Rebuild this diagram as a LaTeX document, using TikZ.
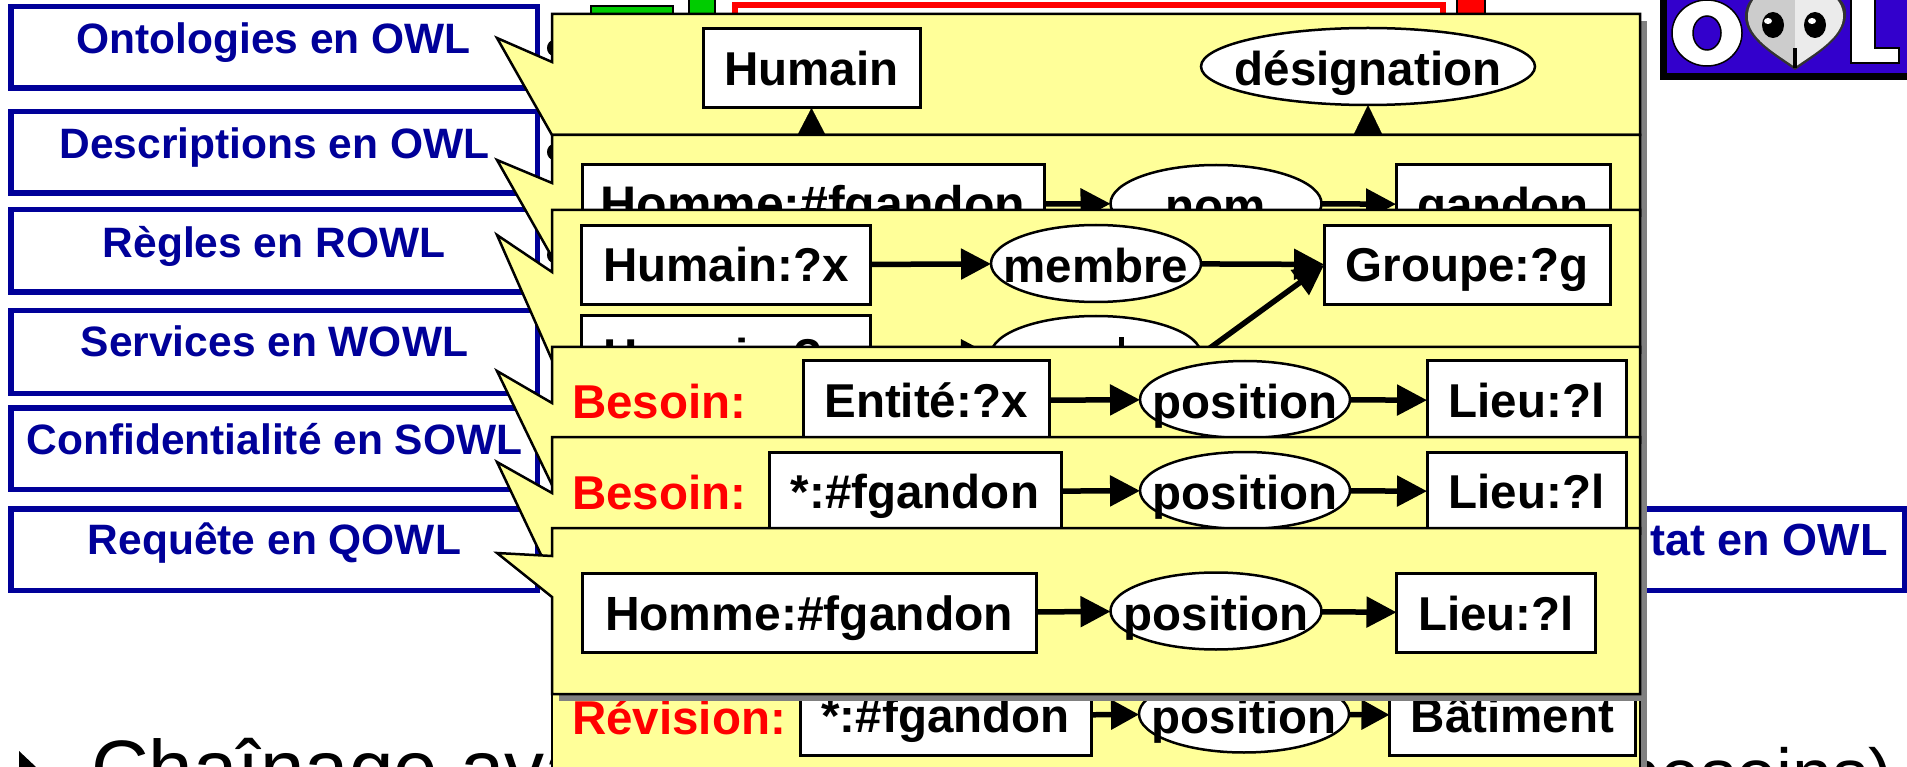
\documentclass[tikz,border=0pt]{standalone}
\usepackage{fontspec}
\setmainfont{Liberation Sans}
\usetikzlibrary{shapes.geometric,arrows.meta}
\definecolor{navyb}{HTML}{000099}
\definecolor{calloutfill}{HTML}{FFFF99}
\definecolor{shadowgray}{HTML}{808080}
\definecolor{greenb}{HTML}{00CC00}
\definecolor{logob}{HTML}{3300CC}
\tikzset{
  panel/.style={draw=navyb,line width=5.5pt,fill=white,sharp corners},
  paneltext/.style={text=navyb,anchor=base,inner sep=0pt,font=\bfseries\fontsize{42.5}{44}\selectfont},
  call/.style={draw=black,line width=2.5pt,fill=calloutfill,line join=miter},
  cnode/.style={draw=black,inner sep=0pt,outer sep=0pt,fill=white,font=\bfseries\fontsize{47.5}{50}\selectfont},
  cbox/.style={cnode,rectangle,line width=3pt,minimum height=79pt,text height=44pt,text depth=10pt},
  cell/.style={cnode,ellipse,line width=2.5pt,minimum height=77pt,text height=46pt,text depth=8pt},
  conn/.style={line width=5.5pt,-{Triangle[length=30pt,width=30pt]}},
  isa/.style={line width=.2pt,-{Triangle[length=#1,width=28pt]}},
  tag/.style={text=red,anchor=base west,inner sep=0pt,font=\bfseries\fontsize{47.5}{50}\selectfont},
  bigtext/.style={inner sep=0pt,font=\fontsize{80}{84}\selectfont},
}
\newcommand{\zw}[1]{\makebox[0pt]{#1}}
% top, bottom, tip y, upper joint y, lower joint y
\newcommand{\calloutshape}[5]{%
  \fill[shadowgray] (559,#1+7) -- (1647,#1+7) -- (1647,#2+7) -- (559,#2+7) -- cycle;
  \draw[call] (552,#1) -- (1640,#1) -- (1640,#2) -- (552,#2) -- (552,#5) -- (497,#3) -- (552,#4) -- cycle;
}
\begin{document}
\begin{tikzpicture}[x=1pt,y=-1pt]
\useasboundingbox (0,0) rectangle (1907,767);
\clip (0,0) rectangle (1907,767);
\fill[white] (0,0) rectangle (1907,767);
% things behind the callouts at the top
\draw[black,line width=2.5pt,fill=greenb] (591,6) rectangle (673,40);
\draw[black,line width=2.5pt,fill=greenb] (689,-5) rectangle (715,40);
\draw[red,line width=6pt] (735,40) -- (735,5) -- (1443,5) -- (1443,40);
\draw[black,line width=2.5pt,fill=red] (1457,-5) rectangle (1485,40);
% bullet bumps behind the callouts
\fill[black] (554,48) ellipse (7 and 8);
\fill[black] (554,152) ellipse (7 and 8);
\fill[black] (554,255) ellipse (7 and 8);
% left panels
\draw[panel] (10.75,6.75) rectangle (537.25,88.25);
\draw[panel] (10.75,111.75) rectangle (537.25,193.25);
\draw[panel] (10.75,209.75) rectangle (537.25,292.25);
\draw[panel] (10.75,310.75) rectangle (537.25,393.25);
\draw[panel] (10.75,407.75) rectangle (537.25,489.25);
\draw[panel] (10.75,508.75) rectangle (537.25,590.25);
\draw[panel] (1378,508.75) rectangle (1904.25,590.25);
\node[paneltext] (t1) at (273.5,53.5) {Ontologies en OWL};
\node[paneltext] (t2) at (274.5,158.5) {Descriptions en OWL};
\node[paneltext] (t3) at (274,257.5) {Règles en ROWL};
\node[paneltext] (t4) at (274.5,357) {Services en WOWL};
\node[paneltext] (t5) at (274.5,454.5) {Confidentialité en SOWL};
\node[paneltext] (t6) at (274.5,554.5) {Requête en QOWL};
\node[paneltext,anchor=base east,font=\bfseries\fontsize{45}{47}\selectfont] (t7) at (1888,555.5) {Résultat en OWL};
% bottom bullet text
\fill[black] (19,751) -- (36,767) -- (19,767) -- cycle;
\node[bigtext,anchor=base west] (b1) at (91,796) {Chaînage avant};
\node[bigtext,anchor=base east,font=\fontsize{72}{76}\selectfont] (b2) at (1893,799) {besoins)};
% logo
\fill[black] (1660,-5) rectangle (1907,80);
\fill[logob] (1667,-5) rectangle (1907,73);
\draw[black,line width=1.5pt,fill=white] (1707,33) ellipse (35 and 33);
\draw[black,line width=1.5pt,fill=logob] (1707,33) ellipse (14 and 17);
\fill[black!80] (1795,70) .. controls (1775,56) and (1744,38) .. (1745,16) .. controls (1745,6) and (1750,-2) .. (1758,-5) -- (1832,-5) .. controls (1842,-2) and (1847,6) .. (1846,16) .. controls (1845,38) and (1815,56) .. (1795,70) -- cycle;
\fill[black!20] (1795,67) .. controls (1777,54) and (1747,38) .. (1748,16) .. controls (1748,8) and (1752,0) .. (1758,-5) -- (1795,-5) -- cycle;
\fill[black!8] (1795,67) .. controls (1813,54) and (1843,38) .. (1843,16) .. controls (1843,8) and (1839,0) .. (1832,-5) -- (1795,-5) -- cycle;
\fill[black] (1773,25) ellipse (11 and 13);
\fill[black] (1815,25) ellipse (11 and 13);
\fill[white] (1768,21) ellipse (4 and 3);
\fill[white] (1812,21) ellipse (4 and 3);
\fill[black] (1793,48) rectangle (1797,68);
\draw[black,line width=2pt,fill=white] (1851,-5) -- (1875,-5) -- (1875,48) -- (1899,48) -- (1899,63) -- (1851,63) -- cycle;
% callout 7 (under callout 6)
\fill[shadowgray] (1640,690) rectangle (1647,767);
\draw[call] (552,690) -- (1640,690) -- (1640,800) -- (552,800) -- cycle;
\node[tag] (r7) at (572,734) {Révision:};
\node[cbox,minimum width=291pt] (a7) at (945.5,715.5) {*:\#fgandon};
\node[cell,minimum width=210pt] (e7) at (1244,714) {\zw{position}};
\node[cbox,minimum width=246pt] (c7) at (1512.5,715.5) {Bâtiment};
\draw[conn,-{Triangle[length=28pt,width=29pt]}] (a7) -- (e7);
\draw[conn,-{Triangle[length=28pt,width=29pt]}] (e7) -- (c7);
% callout 1
\calloutshape{14}{135}{38}{62}{135}
\node[cbox,minimum width=217pt] (a1) at (811.5,68.5) {Humain};
\node[cell,minimum width=334pt] (e1) at (1368,66.5) {\zw{désignation}};
\coordinate (h1) at (811.5,135);
\coordinate (d1) at (1368,135);
\draw[isa=27pt] (h1) -- (a1.south);
\draw[isa=29pt] (d1) -- (e1.south);
% callout 2
\calloutshape{135}{257}{160}{183}{257}
\node[cbox,minimum width=462pt,font=\bfseries\fontsize{50}{52}\selectfont] (a2) at (813,204.5) {Homme:\#fgandon};
\node[cell,minimum width=211pt] (e2) at (1216,203.5) {\zw{nom}};
\node[cbox,minimum width=214pt] (c2) at (1503,204.5) {gandon};
\draw[conn] (a2) -- (e2);
\draw[conn] (e2) -- (c2);
% callout 3
\calloutshape{210}{360}{235}{272}{360}
\node[cbox,minimum width=289pt] (a3) at (726,265) {Humain:?x};
\node[cell,minimum width=210pt] (e3) at (1096,263.5) {\zw{membre}};
\node[cbox,minimum width=286pt] (c3) at (1467,265) {Groupe:?g};
\node[cbox,minimum width=289pt] (a4) at (726,355.5) {Humain:?x};
\node[cell,minimum width=210pt] (e4) at (1096,354.5) {};
\fill[black] (1119,337) rectangle (1124,348);
\draw[conn] (a3) -- (e3);
\draw[conn] (e3) -- (c3);
\draw[conn] (a4) -- (e4);
\draw[conn] (e4.east) -- (c3.west);
% callout 4
\calloutshape{347}{485}{371}{403}{485}
\node[tag] (r4) at (572,418) {Besoin:};
\node[cbox,minimum width=246pt] (a5) at (926,400.5) {Entité:?x};
\node[cell,minimum width=210pt] (e5) at (1245,399.5) {\zw{position}};
\node[cbox,minimum width=199pt] (c5) at (1526.5,400.5) {Lieu:?l};
\draw[conn] (a5) -- (e5);
\draw[conn] (e5) -- (c5);
% callout 5
\calloutshape{437}{578}{462}{493}{578}
\node[tag] (r5) at (572,509) {Besoin:};
\node[cbox,minimum width=292pt] (a6) at (915,491.5) {*:\#fgandon};
\node[cell,minimum width=210pt] (e6) at (1245,490.5) {\zw{position}};
\node[cbox,minimum width=199pt] (c6) at (1526.5,491.5) {Lieu:?l};
\draw[conn] (a6) -- (e6);
\draw[conn] (e6) -- (c6);
% callout 6
\calloutshape{528}{694}{553}{556}{597}
\node[cbox,minimum width=454pt,font=\bfseries\fontsize{48}{50}\selectfont] (a8) at (809,613) {Homme:\#fgandon};
\node[cell,minimum width=211pt] (e8) at (1216,611) {\zw{position}};
\node[cbox,minimum width=199pt] (c8) at (1496,613) {Lieu:?l};
\draw[conn] (a8) -- (e8);
\draw[conn] (e8) -- (c8);
\end{tikzpicture}
\end{document}
